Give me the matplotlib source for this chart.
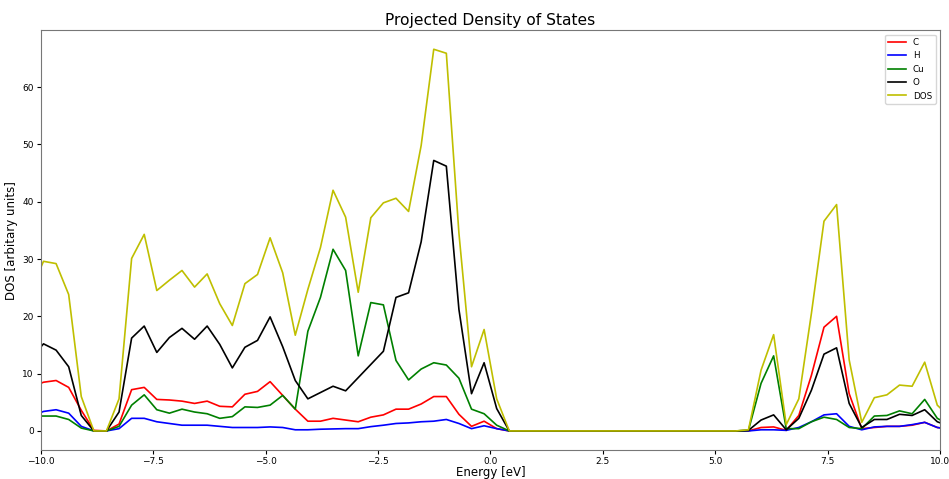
import numpy as np
import matplotlib
matplotlib.use('Agg')
import matplotlib.pyplot as plt

# energy grid of the pdos (eV), uniform step ~0.28
energy = np.linspace(-10.22, 10.22, 74)

zeros = [0.0] * 19  # gap region, all species empty

pdos_C = [7.6, 8.5, 8.8, 7.6, 3.6, 0.1, 0.0, 1.2, 7.2, 7.6,
          5.5, 5.4, 5.2, 4.8, 5.2, 4.3, 4.2, 6.4, 6.9, 8.6,
          6.2, 3.8, 1.7, 1.7, 2.2, 1.9, 1.6, 2.4, 2.8, 3.8,
          3.8, 4.7, 6.0, 6.0, 2.9, 0.8, 1.7, 0.4] + zeros + \
         [0.0, 0.6, 0.7, 0.1, 2.7, 9.7, 18.1, 20.0, 6.5, 0.4,
          0.6, 0.8, 0.8, 1.0, 1.5, 0.6, 0.3]

pdos_H = [2.5, 3.4, 3.7, 3.1, 0.8, 0.0, 0.0, 0.4, 2.2, 2.2,
          1.6, 1.3, 1.0, 1.0, 1.0, 0.8, 0.6, 0.6, 0.6, 0.7,
          0.6, 0.2, 0.2, 0.3, 0.35, 0.4, 0.4, 0.75, 1.0, 1.3,
          1.4, 1.6, 1.7, 2.0, 1.3, 0.4, 0.9, 0.4] + zeros + \
         [0.0, 0.2, 0.2, 0.1, 0.6, 1.6, 2.8, 3.0, 0.8, 0.2,
          0.7, 0.8, 0.8, 1.1, 1.5, 0.6, 0.3]

pdos_Cu = [2.6, 2.6, 2.6, 2.0, 0.5, 0.0, 0.0, 0.8, 4.5, 6.3,
           3.7, 3.1, 3.8, 3.3, 3.0, 2.2, 2.5, 4.2, 4.1, 4.5,
           6.2, 3.8, 17.4, 23.3, 31.7, 28.0, 13.1, 22.4, 22.0, 12.3,
           8.9, 10.8, 11.9, 11.5, 9.2, 3.8, 3.0, 1.0] + zeros + \
          [0.1, 8.3, 13.1, 0.4, 0.4, 1.6, 2.4, 2.0, 0.6, 0.4,
           2.6, 2.7, 3.5, 3.0, 5.5, 2.2, 1.0]

pdos_O = [12.6, 15.2, 14.1, 11.2, 2.7, 0.0, 0.0, 3.3, 16.2, 18.3,
          13.7, 16.3, 17.9, 16.0, 18.3, 15.1, 11.0, 14.6, 15.8, 19.9,
          14.7, 8.8, 5.6, 6.7, 7.8, 7.0, 9.3, 11.6, 13.9, 23.3,
          24.1, 33.0, 47.2, 46.2, 21.2, 6.5, 11.9, 3.9] + zeros + \
         [0.1, 1.9, 2.8, 0.2, 2.2, 7.1, 13.4, 14.5, 4.8, 0.6,
          2.0, 2.0, 2.9, 2.7, 3.7, 1.6, 0.8]

dos_total = [24.5, 29.6, 29.2, 23.8, 6.0, 0.0, 0.0, 5.6, 30.1, 34.3,
             24.5, 26.3, 28.0, 25.1, 27.4, 22.2, 18.4, 25.7, 27.3, 33.7,
             27.6, 16.7, 24.7, 32.0, 42.0, 37.3, 24.2, 37.2, 39.8, 40.6,
             38.3, 49.8, 66.6, 65.9, 34.5, 11.2, 17.7, 5.6] + zeros + \
            [0.2, 10.6, 16.8, 1.1, 5.6, 20.5, 36.6, 39.5, 12.4, 1.5,
             5.8, 6.3, 8.0, 7.8, 12.0, 4.5, 2.4]

if __name__ == '__main__':
    fig = plt.figure(figsize=(9.49, 4.79), dpi=100)
    ax = fig.add_axes([0.043, 0.0605, 0.9475, 0.8765])

    lw = 1.2
    ax.plot(energy, pdos_C, 'r', linewidth=lw, label='C')
    ax.plot(energy, pdos_H, 'b', linewidth=lw, label='H')
    ax.plot(energy, pdos_Cu, 'g', linewidth=lw, label='Cu')
    ax.plot(energy, pdos_O, 'k', linewidth=lw, label='O')
    ax.plot(energy, dos_total, 'y', linewidth=lw, label='DOS')

    ax.set_xlim(-10, 10)
    ax.set_title('Projected Density of States', fontsize=11.2, pad=4)
    ax.set_xlabel('Energy [eV]', fontsize=8.5, labelpad=0)
    ax.set_ylabel('DOS [arbitary units]', fontsize=8.5, labelpad=3)
    ax.tick_params(labelsize=6.5, length=3, pad=2)
    for sp in ax.spines.values():
        sp.set_color('#777777')
    ax.legend(loc='upper right', fontsize=6.3)

    fig.savefig('out.png', dpi=100)
